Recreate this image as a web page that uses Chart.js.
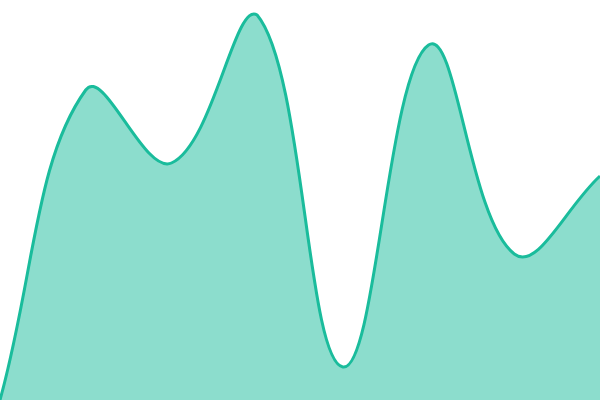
<!DOCTYPE html>
<html>
<head>
<meta charset="utf-8">
<script src="https://cdn.jsdelivr.net/npm/chart.js@4/dist/chart.umd.min.js"></script>
<style>
    html, body { margin: 0; padding: 0; background: #fff; }
    #wrap { width: 600px; height: 400px; }
</style>
</head>
<body>
<div id="wrap"><canvas id="area"></canvas></div>
<script>
// Single filled smooth series, no axes or legend.
const labels = ['1', '2', '3', '4', '5', '6', '7', '8'];
const values = [0, 310, 237, 385, 33, 355, 146, 224];
const yMin = 0;
const yMax = 400;

const LINE = '#1abc9c';
const FILL = 'rgba(26,188,156,0.5)';

new Chart(document.getElementById('area'), {
    type: 'line',
    data: {
        labels: labels,
        datasets: [{
            data: values,
            borderColor: LINE,
            backgroundColor: FILL,
            borderWidth: 3,
            pointRadius: 0,
            fill: true,
            tension: 0.4,
        }],
    },
    options: {
        responsive: true,
        maintainAspectRatio: false,
        animation: false,
        layout: { padding: 0 },
        plugins: { legend: { display: false }, tooltip: { enabled: false } },
        scales: {
            x: { display: false, offset: false },
            y: { display: false, min: yMin, max: yMax },
        },
    },
});
</script>
</body>
</html>
